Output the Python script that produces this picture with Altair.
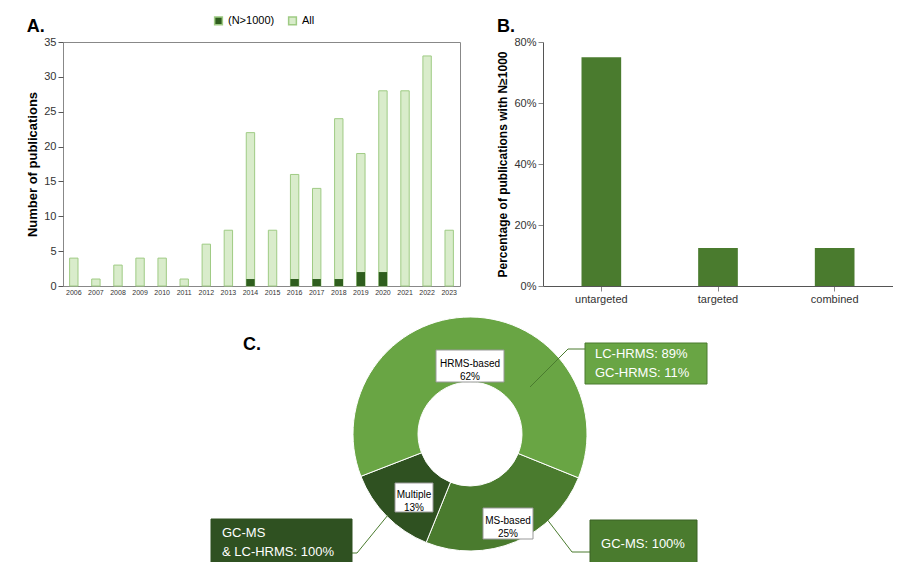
import altair as alt
import pandas as pd

years = [str(y) for y in range(2006, 2024)]
all_counts = [4, 1, 3, 4, 4, 1, 6, 8, 22, 8, 16, 14, 24, 19, 28, 28, 33, 8]
n1000_counts = [0, 0, 0, 0, 0, 0, 0, 0, 1, 0, 1, 1, 1, 2, 2, 0, 0, 0]

approaches = ["untargeted", "targeted", "combined"]
pct_values = [0.75, 0.125, 0.125]

donut_cats = ["MS-based", "Multiple", "HRMS-based"]
donut_vals = [25, 13, 62]
donut_colors = ["#4a7b2e", "#2f5121", "#69a544"]

FONT = "Liberation Sans"

dfA = pd.DataFrame({"year": years, "All": all_counts, "(N>1000)": n1000_counts})
longA = dfA.melt("year", var_name="series", value_name="count")

color_scale = alt.Scale(domain=["(N>1000)", "All"], range=["#2f5e1e", "#d9eccb"])
xA = alt.X("year:N", title=None, sort=years,
           axis=alt.Axis(labelAngle=0, labelFontSize=7, ticks=False, domain=False, labelColor="#333"),
           scale=alt.Scale(paddingInner=0.62, paddingOuter=0.3))
yA = alt.Y("count:Q", title="Number of publications",
           scale=alt.Scale(domain=[0, 35]),
           axis=alt.Axis(values=list(range(0, 36, 5)), grid=False, titleFontSize=13, labelFontSize=11,
                         titleFontWeight="bold", domain=False, tickColor="#555", labelColor="#333"))
barsAll = alt.Chart(longA).transform_filter("datum.series == 'All'").mark_bar(
    stroke="#9fcb84", strokeWidth=1).encode(
    x=xA, y=yA,
    color=alt.Color("series:N", scale=color_scale, title=None,
                    legend=alt.Legend(orient="none", legendX=150, legendY=-27, direction="horizontal",
                                      labelFontSize=11, symbolType="square", symbolSize=60,
                                      columnPadding=10)))
barsN = alt.Chart(longA).transform_filter("datum.series == '(N>1000)' && datum.count > 0").mark_bar().encode(
    x=xA, y=yA, color=alt.Color("series:N", scale=color_scale))
chartA = alt.layer(barsAll, barsN).properties(
    width=397, height=244, view=alt.ViewBackground(stroke="#888"),
    title=alt.TitleParams("A.", anchor="start", frame="bounds", fontSize=18, font=FONT,
                          fontWeight="bold", offset=0))

dfB = pd.DataFrame({"approach": approaches, "pct": pct_values})
chartB = alt.Chart(dfB).mark_bar(color="#4a7b2e").encode(
    x=alt.X("approach:N", sort=approaches, title=None,
            axis=alt.Axis(labelAngle=0, labelFontSize=11, ticks=True, labelColor="#333"),
            scale=alt.Scale(paddingInner=0.66, paddingOuter=0.33)),
    y=alt.Y("pct:Q", title="Percentage of publications with N≥1000",
            scale=alt.Scale(domain=[0, 0.8]),
            axis=alt.Axis(format="%", values=[0, 0.2, 0.4, 0.6, 0.8], grid=False, titleFontSize=12,
                          labelFontSize=11, titleFontWeight="bold", labelColor="#333")),
).properties(width=350, height=244, view=alt.ViewBackground(stroke=None),
             title=alt.TitleParams("B.", anchor="start", frame="bounds", fontSize=18, font=FONT,
                                   fontWeight="bold", offset=0))

dfC = pd.DataFrame({"cat": donut_cats, "val": donut_vals, "order": [0, 1, 2]})
CX, CY, OX, OY = 470, 437, 63, 317  # donut centre (page coords); panel offset on page
theta0 = 112 * 3.14159265 / 180
arc = alt.Chart(dfC).mark_arc(innerRadius=52, outerRadius=117, stroke="white", strokeWidth=1).encode(
    theta=alt.Theta("val:Q", stack=True, scale=alt.Scale(range=[theta0, theta0 + 2 * 3.14159265])),
    order=alt.Order("order:Q"),
    color=alt.Color("cat:N", scale=alt.Scale(domain=donut_cats, range=donut_colors), legend=None),
    x=alt.value(CX - OX), y=alt.value(CY - OY))

one = pd.DataFrame({"k": [0]})


def P(px, py):
    return px - OX, py - OY


def box(x1, y1, x2, y2, fill, stroke):
    a, b = P(x1, y1)
    c, d = P(x2, y2)
    return alt.Chart(one).mark_rect(fill=fill, stroke=stroke, strokeWidth=1).encode(
        x=alt.value(a), y=alt.value(b), x2=alt.value(c), y2=alt.value(d))


def txt(px, py, lines, color, size, align="center", weight="normal"):
    a, b = P(px, py)
    return alt.Chart(one).mark_text(text=lines, color=color, fontSize=size, font=FONT, align=align,
                                    baseline="middle", lineHeight=size + 3, fontWeight=weight).encode(
        x=alt.value(a), y=alt.value(b))


def seg(x1, y1, x2, y2, color):
    a, b = P(x1, y1)
    c, d = P(x2, y2)
    return alt.Chart(one).mark_rule(color=color, strokeWidth=1).encode(
        x=alt.value(a), y=alt.value(b), x2=alt.value(c), y2=alt.value(d))


layersC = [
    arc,
    box(436, 353, 504, 385, "white", "#999"), txt(470, 367, ["HRMS-based", "62%"], "black", 10),
    box(483, 511, 533, 542, "white", "#999"), txt(508, 524, ["MS-based", "25%"], "black", 10),
    box(395, 486, 433, 515, "white", "#999"), txt(414, 498, ["Multiple", "13%"], "black", 10),
    seg(530, 390, 568, 352, "#4a7b2e"), seg(568, 352, 585, 352, "#4a7b2e"),
    box(585, 346, 707, 387, "#69a544", "#4a7b2e"),
    txt(595, 357, "LC-HRMS: 89%", "white", 13, "left"), txt(595, 376, "GC-HRMS: 11%", "white", 13, "left"),
    seg(543, 517, 572, 555, "#4a7b2e"), seg(572, 555, 590, 555, "#4a7b2e"),
    box(590, 523, 697, 570, "#4a7b2e", "#3a6324"), txt(643, 547, "GC-MS: 100%", "white", 13),
    seg(388, 518, 357, 556, "#4a7b2e"), seg(357, 556, 352, 556, "#4a7b2e"),
    box(211, 522, 352, 575, "#2f5121", "#2f5121"),
    txt(222, 536, "GC-MS", "white", 13, "left"), txt(222, 555, "& LC-HRMS: 100%", "white", 13, "left"),
    txt(252, 348, "C.", "black", 18, "center", "bold"),
]
chartC = alt.layer(*layersC).properties(width=750, height=240, view=alt.ViewBackground(stroke=None))

chart = alt.vconcat(
    alt.hconcat(chartA, chartB, spacing=35),
    chartC, spacing=10,
).resolve_scale(color="independent").properties(
    padding={"left": 18, "top": 7, "right": 0, "bottom": 0}
).configure(font=FONT).configure_axis(
    labelFont=FONT, titleFont=FONT, domainColor="#555").configure_legend(labelFont=FONT)

chart.save("out.html", embed_options={"renderer": "svg", "actions": False})
